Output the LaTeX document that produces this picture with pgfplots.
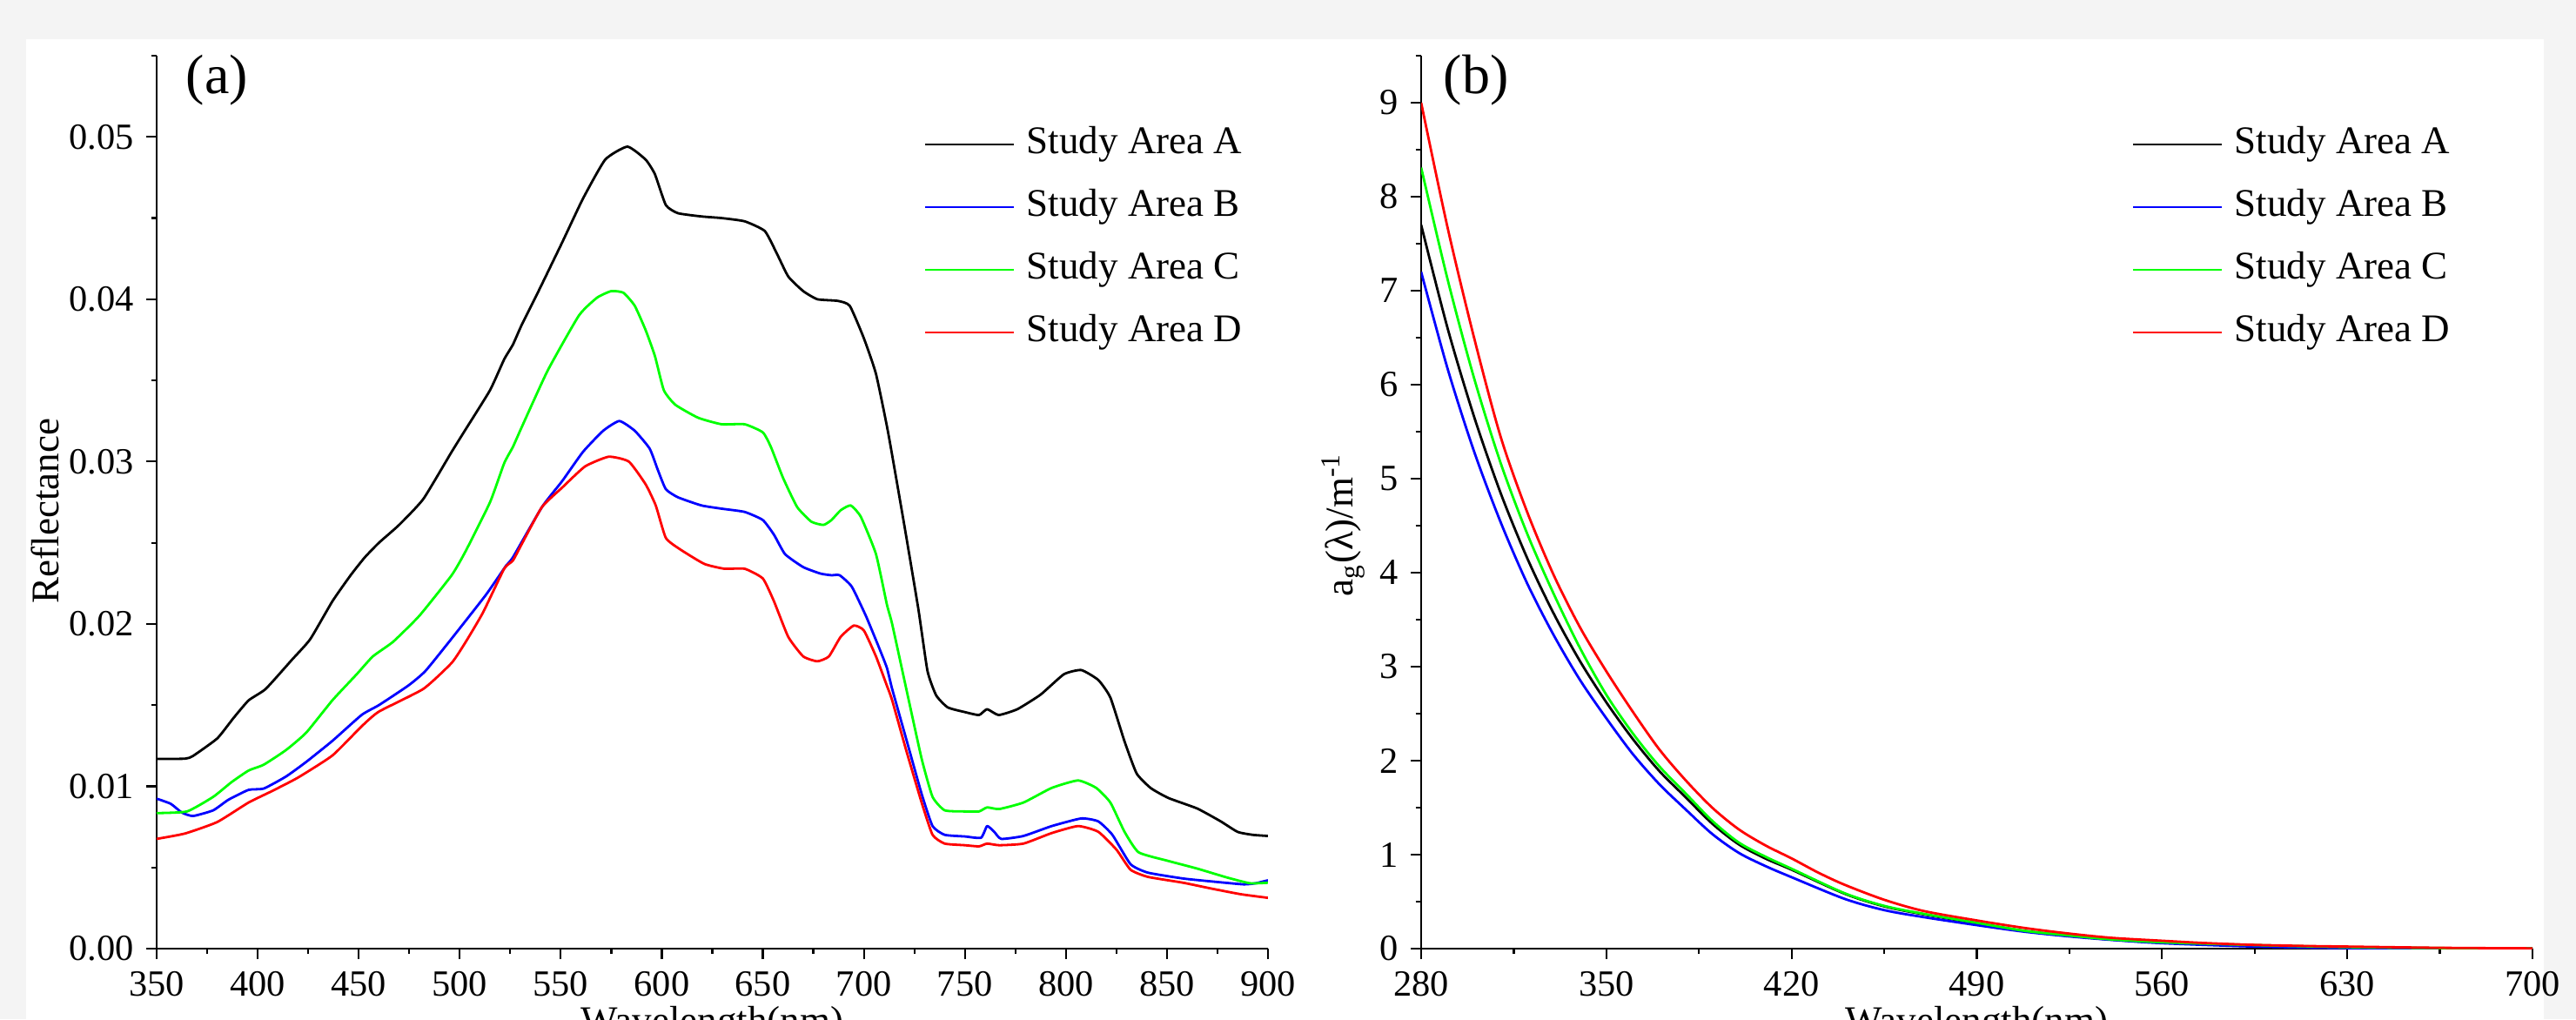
\documentclass[border=0pt]{standalone}
\usepackage{fontspec}
\setmainfont{Liberation Serif}
\usepackage{pgfplots}
\pgfplotsset{compat=1.18}

\definecolor{framegray}{RGB}{244,244,244}
\definecolor{cA}{RGB}{0,0,0}
\definecolor{cB}{RGB}{0,0,255}
\definecolor{cC}{RGB}{0,255,0}
\definecolor{cD}{RGB}{255,0,0}

\pgfplotsset{
  panel/.style={
    scale only axis, width=319.25pt, height=256.5pt,
    anchor=south west,
    axis lines*=left,
    axis line style={line width=0.7pt},
    tick align=outside,
    major tick length=3pt, minor tick length=1.6pt,
    every tick/.style={line width=0.55pt, black},
    tick label style={font=\fontsize{10.6}{12}\selectfont},
    /pgf/number format/assume math mode=true,
    label style={font=\fontsize{11.25}{13}\selectfont},
    legend cell align=left,
    legend style={draw=none, fill=none, inner sep=0pt, outer sep=0pt,
      row sep=7pt, column sep=3.25pt, anchor=north west,
      font=\fontsize{11.25}{13}\selectfont,
      nodes={inner sep=0pt, text height=8pt, text depth=3pt}},
    legend image code/.code={\draw[##1, line width=0.7pt] (0pt,0pt) -- (25.5pt,0pt);},
    every axis plot/.append style={line width=0.7pt, line join=round},
  }
}

\begin{document}
\begin{tikzpicture}
\fill[framegray] (0,0) rectangle (740pt,292.75pt);
\fill[white] (7.5pt,0) rectangle (730.75pt,281.5pt);

% (a) reflectance spectra
\begin{axis}[panel, at={(45pt,20.25pt)},
  xmin=350, xmax=900, ymin=0, ymax=0.055,
  xtick={350,400,...,900},
  minor xtick={375,425,...,875},
  ytick={0,0.01,0.02,0.03,0.04,0.05},
  minor ytick={0.005,0.015,0.025,0.035,0.045,0.055},
  scaled y ticks=false,
  yticklabel style={/pgf/number format/.cd, fixed, fixed zerofill, precision=2},
  xlabel={Wavelength(nm)},
  xlabel style={at={(axis description cs:0.5,-0.0955)}, anchor=base},
  ylabel={Reflectance},
  ylabel style={at={(axis description cs:-0.0877,0.4903)}, anchor=base},
  legend style={at={(axis description cs:0.6907,0.922)}},
  every axis plot/.append style={smooth, tension=0.3},
]
\addplot[cA] coordinates {
(350,0.01169)(364,0.0117)(368,0.01187)(380,0.01295)(388,0.0142)(395.5,0.01529)
(404,0.0160)(417,0.0178)(426,0.01906)(437,0.0214)(446,0.0230)(453,0.0241)
(460,0.0250)(470,0.0261)(482,0.0277)(496,0.0306)(503,0.0320)(515,0.0344)
(522,0.0363)(526.3,0.0372)(530.6,0.0384)(539,0.0405)(550.7,0.0435)(561,0.0462)
(572,0.0486)(583,0.0494)(592,0.0486)(596.6,0.0477)(602,0.0458)(608,0.0453)
(619.6,0.0451)(629.6,0.0450)(641,0.0448)(651,0.0442)(657,0.0428)(662.6,0.0414)
(670,0.0405)(677,0.0400)(687,0.0399)(693,0.0396)(700,0.0376)(706,0.0354)
(712,0.0318)(720,0.0261)(727,0.0209)(731.5,0.0171)(735.8,0.0156)(741.5,0.01486)
(750,0.01457)(757,0.01439)(761,0.01475)(766.7,0.01439)(776,0.01475)(787.5,0.01565)
(799,0.0169)(807.6,0.01716)(816,0.01655)(822,0.01547)(829,0.01277)(835,0.01079)
(842,0.00989)(850.7,0.00928)(865,0.00863)(876.6,0.00784)(885,0.00719)(892.4,0.00701)
(900,0.00694)
};
\addplot[cB] coordinates {
(350,0.00924)(357,0.00892)(362.5,0.00838)(368,0.00817)(378,0.00852)(385.5,0.00917)
(395.5,0.00978)(403,0.00986)(414,0.0106)(424,0.0115)(437,0.0128)(451.5,0.0144)
(460,0.0150)(474.5,0.0162)(483,0.0171)(496,0.0191)(513,0.0218)(523,0.0236)
(526.3,0.0241)(540.7,0.0272)(550.7,0.0288)(561,0.0306)(571,0.0319)(579,0.0325)
(586.6,0.0319)(594,0.0308)(598,0.0295)(602,0.0283)(608,0.0278)(619.6,0.0273)
(629.6,0.0271)(641,0.0269)(650,0.0264)(655.5,0.0255)(661,0.0243)(670,0.0235)
(678.6,0.0231)(684,0.0230)(688,0.0230)(694,0.0223)(701,0.0205)(707,0.0187)
(711.4,0.0173)(714,0.0160)(721,0.0129)(728.6,0.00953)(734,0.00755)(740,0.00701)
(750,0.00691)(758,0.00683)(761,0.00755)(764.5,0.0072)(768,0.00676)(779,0.00694)
(793,0.00755)(807.6,0.00802)(816,0.00784)(823,0.00701)(832,0.0052)(840.6,0.00468)
(858,0.00432)(872,0.00414)(888,0.00396)(894,0.00403)(900,0.00421)
};
\addplot[cC] coordinates {
(350,0.00835)(365,0.00845)(378,0.00935)(387,0.01025)(395.5,0.01097)(403,0.01133)
(414,0.01223)(424,0.0133)(437,0.0153)(449,0.0169)(457,0.0180)(467,0.0189)
(480,0.0205)(496,0.0230)(503,0.0245)(515,0.0275)(522,0.0299)(526.3,0.0309)
(530.6,0.0321)(543.5,0.0356)(559,0.0390)(568,0.0401)(575,0.0405)(581,0.0404)
(586.6,0.0396)(592,0.0381)(596.6,0.0365)(601,0.0344)(606.7,0.0335)(618,0.0327)
(629.6,0.0323)(641,0.0323)(650,0.0318)(654,0.0309)(660,0.0290)(667,0.0272)
(674,0.0263)(680,0.0261)(684,0.0264)(688.5,0.0270)(693.5,0.0273)(698.5,0.0266)
(706,0.0243)(711.4,0.0212)(714,0.0200)(721,0.0160)(728.6,0.0117)(734,0.00935)
(740,0.00852)(750,0.00845)(757,0.00845)(761,0.0087)(767,0.0086)(779,0.0090)
(793,0.0099)(806,0.01036)(815,0.0099)(822,0.0090)(829,0.0072)(836,0.00593)
(850.7,0.0054)(865,0.00493)(879.5,0.00439)(891,0.00403)(900,0.00406)
};
\addplot[cD] coordinates {
(350,0.00676)(364,0.00709)(380,0.0078)(395.5,0.0090)(407,0.0097)(420,0.01054)
(437,0.0119)(451.5,0.0137)(460,0.0146)(482,0.0160)(496,0.0176)(503,0.0189)
(511.5,0.0207)(522,0.0234)(526.3,0.0239)(530.6,0.0249)(540.7,0.0272)(550.7,0.0284)
(562,0.0297)(573.7,0.0303)(583.7,0.0300)(592,0.0286)(597,0.0273)(602,0.0253)
(609,0.0246)(621,0.0237)(631,0.0234)(641,0.0234)(650,0.0228)(655.5,0.0214)
(662.6,0.0192)(670,0.0180)(677,0.0177)(682.7,0.0180)(688.5,0.0192)(695,0.0199)
(700,0.0196)(706,0.0180)(711.4,0.0162)(714,0.0153)(721,0.0122)(728.6,0.0090)
(734,0.00701)(740,0.00647)(750,0.00637)(757,0.0063)(761,0.00647)(767,0.00637)
(779,0.00647)(793,0.00712)(806,0.00755)(816,0.0072)(825,0.0061)(832,0.00486)
(840.6,0.00442)(858,0.00406)(872,0.0037)(886.6,0.00335)(900,0.00313)
};
\legend{Study Area A, Study Area B, Study Area C, Study Area D}
\end{axis}

% (b) CDOM absorption
\begin{axis}[panel, at={(408.25pt,20.25pt)},
  xmin=280, xmax=700, ymin=0, ymax=9.5,
  xtick={280,350,...,700},
  minor xtick={315,385,455,525,595,665},
  ytick={0,1,...,9},
  minor ytick={0.5,1.5,...,9.5},
  xlabel={Wavelength(nm)},
  xlabel style={at={(axis description cs:0.5,-0.0955)}, anchor=base},
  ylabel={a\textsubscript{g}(λ)/m\textsuperscript{-1}},
  ylabel style={at={(axis description cs:-0.0611,0.4747)}, anchor=base},
  legend style={at={(axis description cs:0.6398,0.922)}},
  every axis plot/.append style={smooth},
]
\addplot[cA] coordinates {
(280,7.70)(290,6.60)(300,5.66)(310,4.85)(320,4.16)(330,3.57)(340,3.06)(350,2.62)
(360,2.23)(370,1.89)(380,1.61)(390,1.33)(400,1.11)(410,0.96)(420,0.84)(440,0.585)
(455,0.45)(470,0.365)(490,0.27)(508,0.188)(525,0.137)(540,0.098)(560,0.065)
(595,0.034)(630,0.013)(665,0.005)(700,0.001)
};
\addplot[cB] coordinates {
(280,7.20)(290,6.17)(300,5.29)(310,4.54)(320,3.89)(330,3.34)(340,2.86)(350,2.45)
(360,2.07)(370,1.75)(380,1.48)(390,1.22)(400,1.02)(410,0.88)(420,0.76)(440,0.53)
(455,0.41)(470,0.335)(490,0.25)(508,0.18)(525,0.13)(540,0.095)(560,0.058)
(595,0.022)(630,0.006)(665,0.002)(700,0.0)
};
\addplot[cC] coordinates {
(280,8.31)(290,7.12)(300,6.07)(310,5.17)(320,4.42)(330,3.78)(340,3.20)(350,2.70)
(360,2.29)(370,1.94)(380,1.65)(390,1.36)(400,1.13)(410,0.98)(420,0.85)(440,0.59)
(455,0.455)(470,0.37)(490,0.275)(508,0.19)(525,0.14)(540,0.10)(560,0.068)
(595,0.038)(630,0.016)(665,0.006)(700,0.001)
};
\addplot[cD] coordinates {
(280,9.00)(290,7.67)(300,6.50)(310,5.45)(320,4.65)(330,3.98)(340,3.42)(350,2.95)
(360,2.52)(370,2.12)(380,1.79)(390,1.50)(400,1.27)(410,1.10)(420,0.96)(430,0.81)
(440,0.68)(455,0.52)(470,0.40)(490,0.30)(508,0.22)(525,0.16)(541,0.115)(560,0.084)
(576,0.06)(595,0.04)(615,0.028)(630,0.022)(665,0.009)(700,0.003)
};
\legend{Study Area A, Study Area B, Study Area C, Study Area D}
\end{axis}

\node[anchor=base west, inner sep=0pt, font=\fontsize{16}{18}\selectfont] at (53.25pt,265.75pt) {(a)};
\node[anchor=base west, inner sep=0pt, font=\fontsize{16}{18}\selectfont] at (414.5pt,265.75pt) {(b)};

\pgfresetboundingbox
\useasboundingbox (0,0) rectangle (740pt,292.75pt);
\end{tikzpicture}
\end{document}
